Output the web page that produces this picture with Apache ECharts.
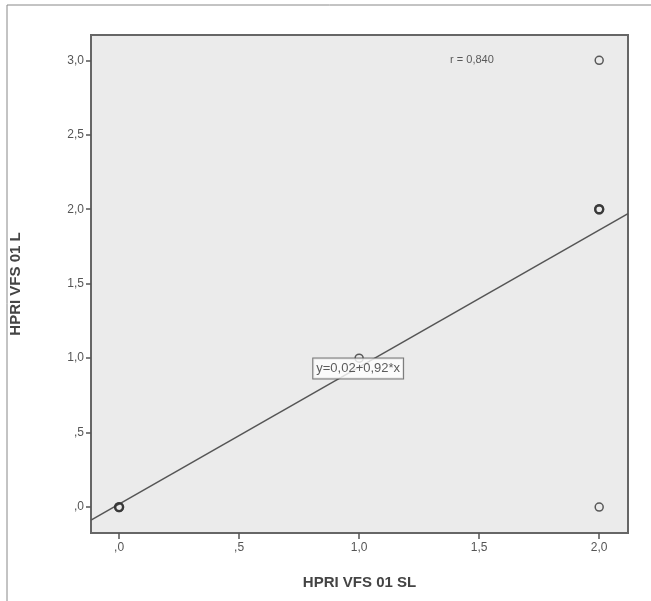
<!DOCTYPE html>
<html>
<head>
<meta charset="utf-8">
<script src="https://cdn.jsdelivr.net/npm/echarts@6/dist/echarts.min.js"></script>
<style>
  html, body { margin: 0; padding: 0; background: #fff; }
  #main { width: 651px; height: 601px; }
</style>
</head>
<body>
<div id="main"></div>
<script>
// points
var xVals = [0, 0, 1, 2, 2, 2, 2];
var yVals = [0, 0, 1, 2, 2, 3, 0];
var xTicks = [0, 0.5, 1, 1.5, 2];
var yTicks = [0, 0.5, 1, 1.5, 2, 2.5, 3];
var fitCoef = [0.02, 0.92]; // y = a + b*x
var rText = 'r = 0,840';
var eqText = 'y=0,02+0,92*x';

var xMin = -0.117, xMax = 2.12;
var yMin = -0.174, yMax = 3.17;

function fmt(v) {
  var s = v.toFixed(1).replace('.', ',');
  if (s.indexOf('0,') === 0) s = s.substring(1);
  return s;
}

// repeated points get a heavier ring, like overlapping marks in the original
var pts = [];
for (var i = 0; i < xVals.length; i++) {
  var n = 0;
  for (var j = 0; j < xVals.length; j++) {
    if (xVals[j] === xVals[i] && yVals[j] === yVals[i]) n++;
  }
  pts.push({ value: [xVals[i], yVals[i]], itemStyle: { borderWidth: n > 1 ? 2.3 : 1.5 } });
}

var fitLine = [
  [xMin, fitCoef[0] + fitCoef[1] * xMin],
  [xMax, fitCoef[0] + fitCoef[1] * xMax]
];

window.onload = function () {
  var myChart = echarts.init(document.getElementById('main'));
  var axisFont = { fontFamily: 'Liberation Sans', fontSize: 12, color: '#555' };
  var option = {
    backgroundColor: '#fff',
    animation: false,
    grid: {
      left: 90, top: 35, right: 23, bottom: 68,
      show: true,
      backgroundColor: '#ebebeb',
      borderColor: '#666',
      borderWidth: 2
    },
    xAxis: {
      type: 'value',
      min: xMin, max: xMax,
      name: 'HPRI VFS 01 SL',
      nameLocation: 'middle',
      nameGap: 42,
      nameTextStyle: { fontFamily: 'Liberation Sans', fontSize: 15, fontWeight: 'bold', color: '#444' },
      splitLine: { show: false },
      axisLine: { show: true, onZero: false, lineStyle: { color: '#666', width: 2 } },
      axisTick: { show: true, customValues: xTicks, length: 6, lineStyle: { color: '#555', width: 1.5 } },
      axisLabel: Object.assign({ customValues: xTicks, formatter: fmt, margin: 9 }, axisFont)
    },
    yAxis: {
      type: 'value',
      min: yMin, max: yMax,
      name: 'HPRI VFS 01 L',
      nameLocation: 'middle',
      nameGap: 68,
      nameTextStyle: { fontFamily: 'Liberation Sans', fontSize: 15, fontWeight: 'bold', color: '#444' },
      splitLine: { show: false },
      axisLine: { show: true, onZero: false, lineStyle: { color: '#666', width: 2 } },
      axisTick: { show: true, customValues: yTicks, length: 5, lineStyle: { color: '#555', width: 1.5 } },
      axisLabel: Object.assign({ customValues: yTicks, formatter: fmt, margin: 7 }, axisFont)
    },
    graphic: [{
      type: 'rect',
      shape: { x: 7, y: 5, width: 660, height: 610 },
      style: { fill: 'none', stroke: '#888', lineWidth: 1 },
      silent: true
    }],
    series: [
      {
        type: 'line',
        data: fitLine,
        symbol: 'none',
        lineStyle: { color: '#555', width: 1.5 },
        z: 2
      },
      {
        type: 'scatter',
        data: pts,
        symbol: 'circle',
        symbolSize: 8,
        itemStyle: { color: 'rgba(0,0,0,0)', borderColor: '#333', borderWidth: 1.5 },
        z: 3
      },
      {
        type: 'scatter',
        symbolSize: 0,
        z: 5,
        label: {
          show: true,
          position: 'inside',
          fontFamily: 'Liberation Sans',
          fontSize: 11,
          color: '#333',
          formatter: function (p) { return p.dataIndex === 0 ? rText : eqText; }
        },
        emphasis: { disabled: true },
        data: [
          { value: [1.47, 3.0] },
          {
            value: [0.996, 0.93],
            label: {
              backgroundColor: '#fff',
              borderColor: '#555',
              borderWidth: 1,
              padding: [4, 3, 3, 3],
              fontSize: 13
            }
          }
        ]
      }
    ]
  };
  myChart.setOption(option);
};
</script>
</body>
</html>
